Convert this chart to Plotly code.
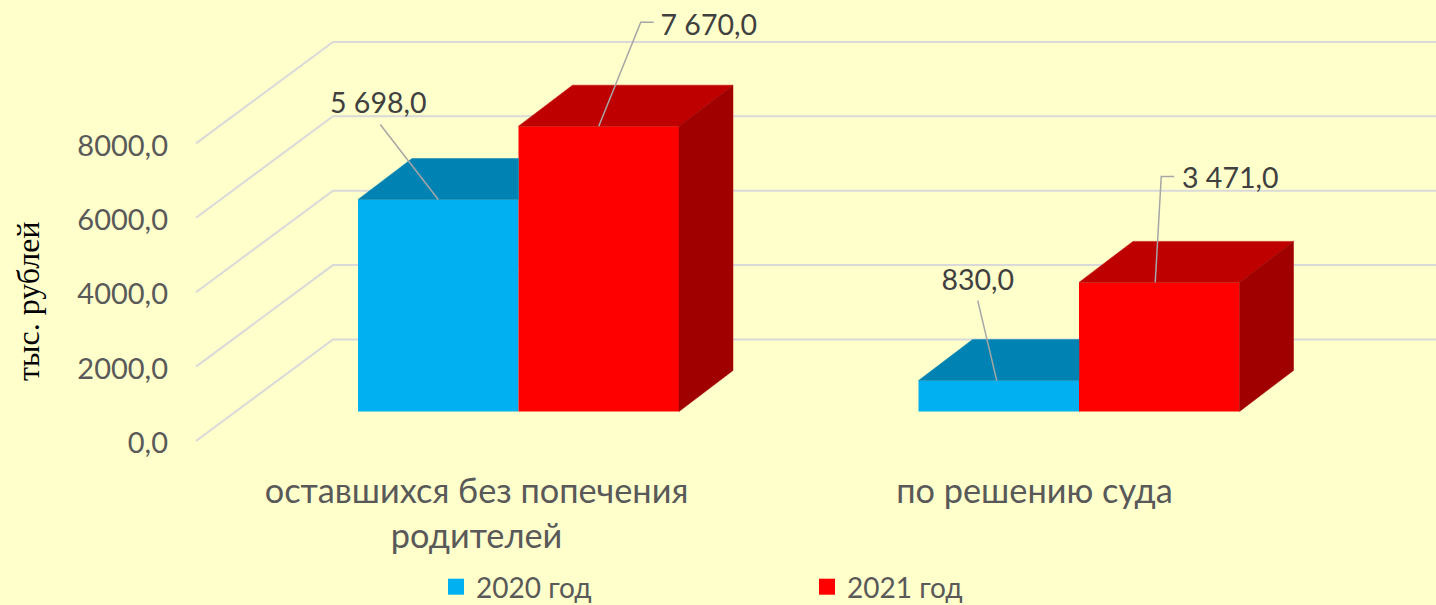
import plotly.graph_objects as go

# ---------- data ----------
categories = ["оставшихся без попечения<br>родителей", "по решению суда"]
values_2020 = [5698.0, 830.0]
values_2021 = [7670.0, 3471.0]
series_names = ["2020 год", "2021 год"]
tick_values = [0, 2000, 4000, 6000, 8000]
tick_labels = ["0,0", "2000,0", "4000,0", "6000,0", "8000,0"]
y_title = "тыс. рублей"

# ---------- layout constants ----------
W, H = 1436, 605
LEGEND_TOP = 562
PLOT_BOTTOM = LEGEND_TOP      # the legend reserves everything below its top edge
CAT_AXIS_Y = 468
PX_PER_VALUE = 0.0372
PX_PER_CAT = 560.5
LABEL_SPACING = 558 / PX_PER_CAT
BAR_ZERO_X, BAR_ZERO_Y = 518.5, 411.5   # first category centre, value 0 (bar plane)
AXIS_ZERO_X, AXIS_ZERO_Y = 476.5, 441   # first category centre, value 0 (floor front edge)
BAR_W = 160.5 / PX_PER_CAT
DEPTH_X = 54 / PX_PER_CAT
DEPTH_Y = 41 / PX_PER_VALUE
FLOOR_X0 = (196 - AXIS_ZERO_X) / PX_PER_CAT
FLOOR_X1 = (333 - AXIS_ZERO_X) / PX_PER_CAT
FLOOR_DY = 101.5 / PX_PER_VALUE

BG = "#FFFFCC"
TEXT = "#595959"
LABEL = "#404040"
GRID = "#D9D9D9"
LEADER = "#A6A6A6"
BLUE, BLUE_TOP = "#00B0F0", "#0083B3"
RED, RED_TOP, RED_SIDE = "#FF0000", "#BF0000", "#A00000"
FONT = "Lato"


def x_range(zero):
    return [(0 - zero) / PX_PER_CAT, (W - zero) / PX_PER_CAT]


def y_range(zero):
    return [(zero - PLOT_BOTTOM) / PX_PER_VALUE, zero / PX_PER_VALUE]


def fmt(v):
    return f"{v:,.1f}".replace(",", " ").replace(".", ",")


fig = go.Figure()

# gridlines on the side and back walls, on the floor-front axes
for t in tick_values:
    fig.add_trace(go.Scatter(
        x=[FLOOR_X0, FLOOR_X1, x_range(AXIS_ZERO_X)[1]],
        y=[t, t + FLOOR_DY, t + FLOOR_DY],
        mode="lines", line=dict(color=GRID, width=2),
        showlegend=False, hoverinfo="skip", xaxis="x", yaxis="y"))

# front faces
positions = list(range(len(categories)))
fig.add_trace(go.Bar(x=positions, y=values_2020, name=series_names[0], marker=dict(color=BLUE, line_width=0),
                     showlegend=False, xaxis="x2", yaxis="y2"))
fig.add_trace(go.Bar(x=positions, y=values_2021, name=series_names[1], marker=dict(color=RED, line_width=0),
                     showlegend=False, xaxis="x2", yaxis="y2"))


def poly(xs, ys, color):
    fig.add_trace(go.Scatter(x=xs + xs[:1], y=ys + ys[:1], mode="lines", fill="toself", fillcolor=color,
                             line=dict(color=color, width=0.5), showlegend=False, hoverinfo="skip",
                             xaxis="x2", yaxis="y2"))


for i, (a, b) in enumerate(zip(values_2020, values_2021)):
    poly([i - BAR_W, i - BAR_W + DEPTH_X, i, i], [a, a + DEPTH_Y, a + DEPTH_Y, a], BLUE_TOP)
    poly([i, i + DEPTH_X, i + BAR_W + DEPTH_X, i + BAR_W], [b, b + DEPTH_Y, b + DEPTH_Y, b], RED_TOP)
    poly([i + BAR_W, i + BAR_W + DEPTH_X, i + BAR_W + DEPTH_X, i + BAR_W],
         [0, DEPTH_Y, b + DEPTH_Y, b], RED_SIDE)

# leader lines and value labels: offsets in pixels from the front-top centre of each bar
items = [
    (0 - BAR_W / 2, values_2020[0], [(0, 0), (-58, -75)], (-60, -94)),
    (0 + BAR_W / 2, values_2021[0], [(0, 0), (42, -104), (55, -104)], (110, -98)),
    (1 - BAR_W / 2, values_2020[1], [(-2, 0), (-21, -80)], (-21, -98)),
    (1 + BAR_W / 2, values_2021[1], [(-4, 0), (2, -106), (15, -106)], (71, -102)),
]
for cx, v, leader, off in items:
    fig.add_trace(go.Scatter(
        x=[cx + p[0] / PX_PER_CAT for p in leader],
        y=[v - p[1] / PX_PER_VALUE for p in leader],
        mode="lines", line=dict(color=LEADER, width=1.5),
        showlegend=False, hoverinfo="skip", xaxis="x2", yaxis="y2"))
    fig.add_trace(go.Scatter(
        x=[cx + off[0] / PX_PER_CAT], y=[v - off[1] / PX_PER_VALUE], text=[fmt(v)],
        mode="text", textposition="middle center", textfont=dict(family=FONT, size=28.5, color=LABEL),
        showlegend=False, hoverinfo="skip", xaxis="x2", yaxis="y2"))

# legend entries
for name, color in zip(series_names, (BLUE, RED)):
    fig.add_trace(go.Scatter(x=[None], y=[None], name=name, mode="markers",
                             marker=dict(symbol="square", size=18, color=color, line_width=0),
                             xaxis="x2", yaxis="y2"))

fig.update_layout(
    width=W, height=H, autosize=False,
    margin=dict(l=0, r=0, t=0, b=0, pad=0),
    paper_bgcolor=BG, plot_bgcolor=BG,
    barmode="group", bargap=1 - 2 * BAR_W, bargroupgap=0,
    showlegend=True,
    legend=dict(orientation="h", x=436 / W, xanchor="left", xref="paper",
                y=(H - LEGEND_TOP) / H, yanchor="top", yref="container",
                entrywidth=326, entrywidthmode="pixels", bgcolor="rgba(0,0,0,0)", borderwidth=0,
                font=dict(family=FONT, size=28, color=TEXT), traceorder="normal"),
    xaxis=dict(range=x_range(AXIS_ZERO_X), tickvals=[p * LABEL_SPACING for p in positions], ticktext=categories,
               showgrid=False, zeroline=False,
               showline=False, ticks="", anchor="free", position=(PLOT_BOTTOM - CAT_AXIS_Y) / PLOT_BOTTOM,
               tickfont=dict(family=FONT, size=34.3, color=TEXT), automargin=False, fixedrange=True),
    yaxis=dict(range=y_range(AXIS_ZERO_Y), tickvals=tick_values, ticktext=tick_labels, showgrid=False, zeroline=False,
               showline=False, ticks="", anchor="free", position=168 / W, side="left", automargin=False,
               ticklabelshift=2,
               tickfont=dict(family=FONT, size=29, color=TEXT), fixedrange=True),
    xaxis2=dict(range=x_range(BAR_ZERO_X), overlaying="x", visible=False, fixedrange=True),
    yaxis2=dict(range=y_range(BAR_ZERO_Y), overlaying="y", visible=False, fixedrange=True),
    annotations=[dict(text=y_title, textangle=-90, showarrow=False, xref="paper", yref="paper",
                      x=28 / W, y=(PLOT_BOTTOM - 301) / PLOT_BOTTOM, xanchor="center", yanchor="middle",
                      font=dict(family="Liberation Serif", size=32, color="#000000"))],
)

fig.write_html("out.html", post_script="document.body.style.margin='0';document.body.style.overflow='hidden';",
               config={"displayModeBar": False})
